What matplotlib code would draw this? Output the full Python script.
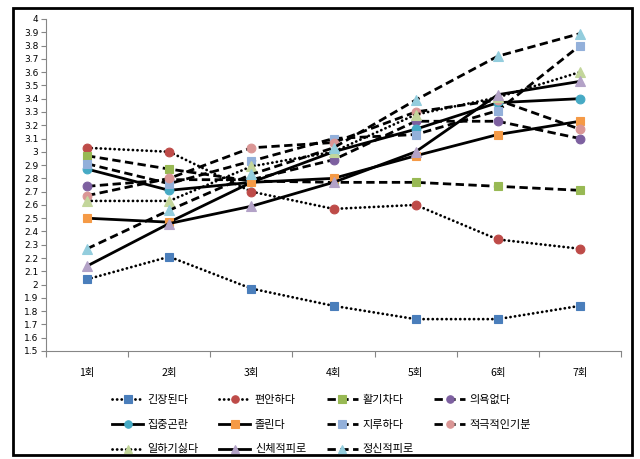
import matplotlib
matplotlib.use("Agg")
import matplotlib.pyplot as plt
from matplotlib.patches import Rectangle

plt.rcParams['font.family'] = ['Noto Sans CJK KR', 'DejaVu Sans']

categories = ['1회', '2회', '3회', '4회', '5회', '6회', '7회']

series_names = ['긴장된다', '편안하다', '활기차다', '의욕없다', '집중곤란', '졸린다',
                '지루하다', '적극적인기분', '일하기싫다', '신체적피로', '정신적피로']

v_tense    = [2.04, 2.21, 1.97, 1.84, 1.74, 1.74, 1.84]
v_comfort  = [3.03, 3.00, 2.70, 2.57, 2.60, 2.34, 2.27]
v_lively   = [2.97, 2.87, 2.78, 2.77, 2.77, 2.74, 2.71]
v_unmotiv  = [2.74, 2.79, 2.79, 2.94, 3.23, 3.23, 3.10]
v_focus    = [2.87, 2.71, 2.77, 3.00, 3.17, 3.37, 3.40]
v_sleepy   = [2.50, 2.47, 2.77, 2.80, 2.97, 3.13, 3.23]
v_bored    = [2.91, 2.76, 2.93, 3.10, 3.13, 3.31, 3.80]
v_active   = [2.67, 2.80, 3.03, 3.07, 3.30, 3.39, 3.17]
v_nowork   = [2.63, 2.63, 2.89, 3.00, 3.28, 3.41, 3.60]
v_physical = [2.14, 2.46, 2.59, 2.77, 3.00, 3.43, 3.53]
v_mental   = [2.27, 2.56, 2.83, 3.03, 3.39, 3.72, 3.89]

values = [v_tense, v_comfort, v_lively, v_unmotiv, v_focus, v_sleepy,
          v_bored, v_active, v_nowork, v_physical, v_mental]

colors = ['#4A7EBB', '#BE4B48', '#98B954', '#7D60A0', '#46AAC5', '#F59A46',
          '#93B0DA', '#DA9695', '#C3D69B', '#B3A2C7', '#93CDDD']
markers = ['s', 'o', 's', 'o', 'o', 's', 's', 'o', '^', '^', '^']
DOT = (0, (0.05, 1.6))
DASH = (0, (3.0, 1.6))
SOLID = '-'
styles = [DOT, DOT, DASH, DASH, SOLID, SOLID, DASH, DASH, DOT, SOLID, DASH]

fig = plt.figure(figsize=(6.4, 4.59), dpi=100)
ax = fig.add_axes([46/640, 1 - 351/459, 575/640, 332/459])

x = list(range(1, len(categories) + 1))
handles = []
for name, vals, c, m, ls in zip(series_names, values, colors, markers, styles):
    h, = ax.plot(x, vals, color='black', lw=2.0, linestyle=ls,
                 dash_capstyle='round' if ls == DOT else 'butt',
                 marker=m, markersize=6.3 if m != '^' else 7.3,
                 markerfacecolor=c, markeredgecolor=c, markeredgewidth=0.8,
                 label=name)
    handles.append(h)

ax.set_xlim(0.5, 7.5)
ax.set_ylim(1.5, 4.0)
yt = [1.5 + 0.1 * i for i in range(26)]
ax.set_yticks(yt)
ax.set_yticklabels([('%.1f' % v).rstrip('0').rstrip('.') for v in yt], fontsize=6.5,
                   fontfamily='DejaVu Sans')
ax.set_xticks(x)
ax.set_xticklabels(categories, fontsize=7.5)
ax.set_xticks([i + 0.5 for i in range(0, 8)], minor=True)
ax.tick_params(axis='x', which='major', length=0, pad=12)
ax.tick_params(axis='x', which='minor', length=4, color='#868686', width=0.8)
ax.tick_params(axis='y', length=3.5, color='#868686', width=0.8, pad=2)
for s in ['top', 'right']:
    ax.spines[s].set_visible(False)
for s in ['left', 'bottom']:
    ax.spines[s].set_color('#868686')
    ax.spines[s].set_linewidth(0.8)

# legend order: row-major in the original -> reorder for column-major fill
order = [0, 4, 8, 1, 5, 9, 2, 6, 10, 3, 7]
fig.legend([handles[i] for i in order], [series_names[i] for i in order],
           ncol=4, loc='upper left', bbox_to_anchor=(112/640, 1 - 395/459),
           frameon=False, fontsize=8, handlelength=2.8, handletextpad=0.4,
           columnspacing=1.85, labelspacing=1.32, borderpad=0, borderaxespad=0,
           markerscale=0.85)

fig.patches.append(Rectangle((13/640, 4/459), 619/640, 447/459, transform=fig.transFigure,
                             fill=False, edgecolor='black', lw=2.0))

fig.savefig('out.png', dpi=100)
